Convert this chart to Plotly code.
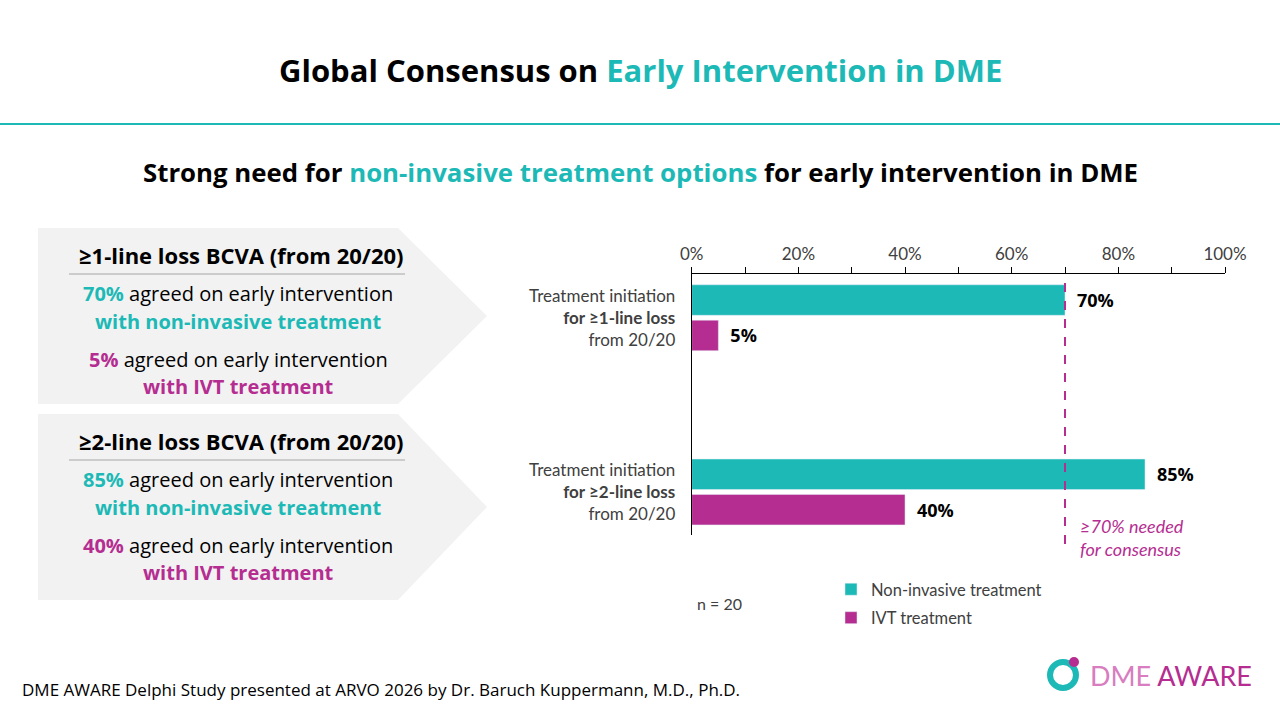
import plotly.graph_objects as go

# chart data
categories = ["Treatment initiation<br><b>for ≥1-line loss</b><br>from 20/20",
              "Treatment initiation<br><b>for ≥2-line loss</b><br>from 20/20"]
box_headers = ["≥1-line loss BCVA (from 20/20)", "≥2-line loss BCVA (from 20/20)"]
non_invasive = [70, 85]
ivt = [5, 40]
consensus_level = 70
n_respondents = 20
x_ticks = [0, 20, 40, 60, 80, 100]

TEAL = "#1CB9B6"
MAGENTA = "#B52D91"
GRAY_TXT = "#404040"
FONT = "Open Sans"
NARROW = "Lato"
W, H = 1280, 720


def px(x):
    return x / W


def py(y):
    return 1 - y / H


fig = go.Figure()
fig.add_trace(go.Bar(y=categories, x=non_invasive, orientation="h", name="Non-invasive treatment",
                     legendgroup="a", marker_color=TEAL, text=[f"\u2002<b>{v}%</b>" for v in non_invasive],
                     texttemplate="%{text}", textposition="outside",
                     textfont=dict(size=18, color="black", family=FONT), cliponaxis=False))
fig.add_trace(go.Bar(y=categories, x=ivt, orientation="h", name="IVT treatment",
                     legendgroup="b", marker_color=MAGENTA, text=[f"\u2002<b>{v}%</b>" for v in ivt],
                     texttemplate="%{text}", textposition="outside",
                     textfont=dict(size=18, color="black", family=FONT), cliponaxis=False))

fig.update_layout(
    width=W, height=H, autosize=False, margin=dict(l=0, r=0, t=0, b=0, pad=0),
    paper_bgcolor="white", plot_bgcolor="white",
    font=dict(family=FONT, color=GRAY_TXT),
    barmode="group", bargap=0.594, bargroupgap=0.137,
    legend=dict(x=px(831), y=py(572), xanchor="left", yanchor="top",
                font=dict(size=16.5, color=GRAY_TXT, family=NARROW), tracegroupgap=4),
)

fig.update_xaxes(domain=[px(691.7), px(1225)], range=[0, 100], side="top", automargin=False,
                 tickvals=x_ticks, ticktext=[f"{v}%" for v in x_ticks],
                 ticks="outside", ticklen=6, tickcolor="black",
                 minor=dict(ticks="outside", dtick=10, ticklen=6, tickcolor="black"),
                 showline=True, linecolor="black", linewidth=1, showgrid=False, zeroline=False,
                 tickfont=dict(size=17, color=GRAY_TXT, family=NARROW))
fig.update_yaxes(domain=[py(535), py(274)], type="category", categoryorder="array", automargin=False,
                 categoryarray=categories, range=[1.247, -0.251],
                 showline=True, linecolor="black", linewidth=1, ticks="", showgrid=False,
                 ticklabelstandoff=12, tickfont=dict(size=17, color=GRAY_TXT, family=NARROW))

# consensus threshold line
fig.add_shape(type="line", xref="x", yref="paper", x0=consensus_level, x1=consensus_level,
              y0=py(283), y1=py(553), line=dict(color=MAGENTA, width=2, dash="dash"))
fig.add_annotation(xref="paper", yref="paper", x=px(1078), y=py(537), xanchor="left", yanchor="middle",
                   text=f"<i>≥{consensus_level}% needed<br>for consensus</i>", showarrow=False, align="left",
                   font=dict(size=18, color=MAGENTA, family=NARROW))

# header
fig.add_annotation(xref="paper", yref="paper", x=0.5, y=py(70), xanchor="center", yanchor="middle",
                   text=f"<b>Global Consensus on <span style='color:{TEAL}'>Early Intervention in DME</span></b>",
                   showarrow=False, font=dict(size=31, color="black", family=FONT))
fig.add_shape(type="line", xref="paper", yref="paper", x0=0, x1=1, y0=py(124), y1=py(124),
              line=dict(color=TEAL, width=2))
fig.add_annotation(xref="paper", yref="paper", x=0.5, y=py(172), xanchor="center", yanchor="middle",
                   text=("<b>Strong need for <span style='color:" + TEAL + "'>non-invasive treatment options</span>"
                         " for early intervention in DME</b>"),
                   showarrow=False, font=dict(size=25.8, color="black", family=FONT))

# left summary chevrons
box_tops = [228, 414]
box_bottoms = [404, 600]
for i in range(len(categories)):
    t, b = box_tops[i], box_bottoms[i]
    m = (t + b) / 2
    path = (f"M {px(38)},{py(t)} L {px(398)},{py(t)} L {px(487)},{py(m)} "
            f"L {px(398)},{py(b)} L {px(38)},{py(b)} Z")
    fig.add_shape(type="path", xref="paper", yref="paper", path=path,
                  fillcolor="#F2F2F2", line=dict(width=0), layer="below")
    fig.add_shape(type="line", xref="paper", yref="paper", x0=px(69), x1=px(405),
                  y0=py(t + 46), y1=py(t + 46), line=dict(color="#A6A6A6", width=1))
    fig.add_annotation(xref="paper", yref="paper", x=px(241), y=py(t + 27), xanchor="center",
                       yanchor="middle", text=f"<b>{box_headers[i]}</b>", showarrow=False,
                       font=dict(size=22, color="black", family=FONT))
    lines = [
        (t + 65, f"<b><span style='color:{TEAL}'>{non_invasive[i]}%</span></b> agreed on early intervention", "black"),
        (t + 93, f"<b>with non-invasive treatment</b>", TEAL),
        (t + 131, f"<b><span style='color:{MAGENTA}'>{ivt[i]}%</span></b> agreed on early intervention", "black"),
        (t + 158, f"<b>with IVT treatment</b>", MAGENTA),
    ]
    for y, txt, col in lines:
        fig.add_annotation(xref="paper", yref="paper", x=px(238), y=py(y), xanchor="center",
                           yanchor="middle", text=txt, showarrow=False,
                           font=dict(size=20, color=col, family=FONT))

# sample size + footer
fig.add_annotation(xref="paper", yref="paper", x=px(695), y=py(603), xanchor="left", yanchor="middle",
                   text=f"n = {n_respondents}", showarrow=False, font=dict(size=16, color=GRAY_TXT, family=NARROW))
fig.add_annotation(xref="paper", yref="paper", x=px(20), y=py(689), xanchor="left", yanchor="middle",
                   text="DME AWARE Delphi Study presented at ARVO 2026 by Dr. Baruch Kuppermann, M.D., Ph.D.",
                   showarrow=False, font=dict(size=17, color="black", family=FONT))

# logo
fig.add_shape(type="circle", xref="paper", yref="paper", x0=px(1050), x1=px(1076), y0=py(688), y1=py(662),
              line=dict(color=TEAL, width=6))
fig.add_shape(type="circle", xref="paper", yref="paper", x0=px(1069), x1=px(1079), y0=py(667), y1=py(657),
              fillcolor=MAGENTA, line=dict(width=0))
fig.add_annotation(xref="paper", yref="paper", x=px(1088), y=py(675), xanchor="left", yanchor="middle",
                   text=f"<span style='color:#D77DC0'>DME</span> AWARE", showarrow=False,
                   font=dict(size=27, color=MAGENTA, family=NARROW))

fig.write_html("out.html", config={"displayModeBar": False},
               post_script="document.body.style.margin='0';document.body.style.overflow='hidden';")
